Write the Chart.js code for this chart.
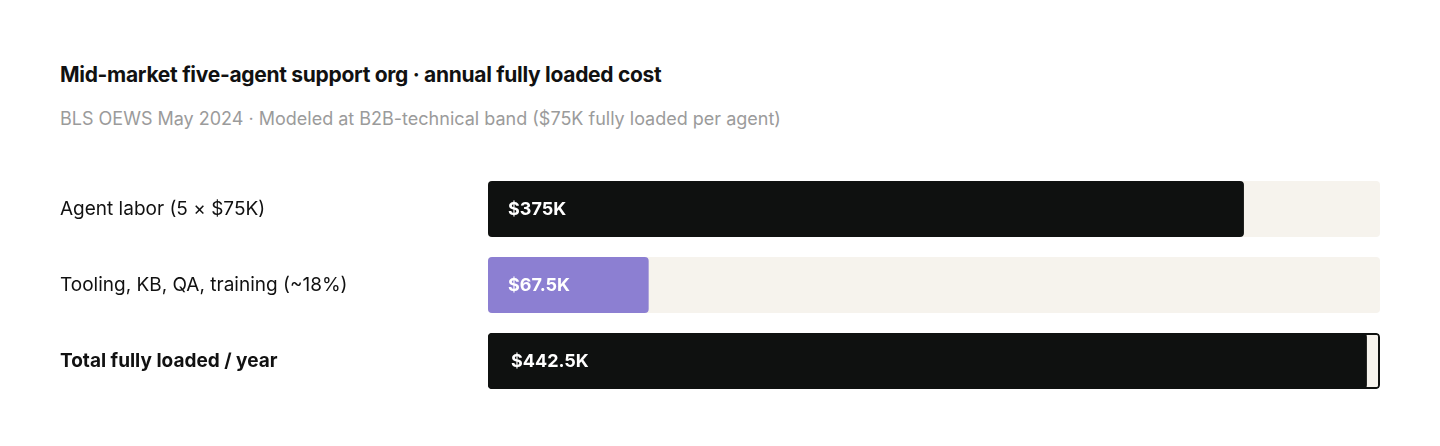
<!DOCTYPE html>
<html><head><meta charset="utf-8">
<script src="https://cdn.jsdelivr.net/npm/chart.js@4"></script>
<style>
html,body{margin:0;padding:0;background:#fff;font-family:Inter,"Noto Sans",sans-serif;}
#wrap{position:relative;width:1440px;height:446px;}
#t{position:absolute;left:60px;top:62px;font-size:21px;font-weight:700;color:#111;letter-spacing:-0.3px}
#s{position:absolute;left:60px;top:108px;font-size:18px;color:#9b9b9b}
canvas{position:absolute;left:0;top:0}
</style></head><body>
<div id="wrap">
<div id="t">Mid-market five-agent support org · annual fully loaded cost</div>
<div id="s">BLS OEWS May 2024 · Modeled at B2B-technical band ($75K fully loaded per agent)</div>
<canvas id="c" width="1440" height="446"></canvas>
</div>
<script>
const categories = ["Agent labor (5 × $75K)", "Tooling, KB, QA, training (~18%)", "Total fully loaded / year"];
const barValues = [375, 79.7, 436];
const valueLabels = ["$375K", "$67.5K", "$442.5K"];
const trackMax = 442.5;
const barColors = ["#0f1110", "#8c7fd2", "#0f1110"];

const labelPlugin = {
  id: 'vl',
  afterDatasetsDraw(chart) {
    const ctx = chart.ctx;
    const meta = chart.getDatasetMeta(0);
    ctx.save();
    ctx.fillStyle = '#fff';
    ctx.font = '700 18px Inter, sans-serif';
    ctx.textBaseline = 'middle';
    meta.data.forEach((b, i) => {
      ctx.fillText(valueLabels[i], b.base + (i === 2 ? 23 : 20), b.y + 1);
    });
    ctx.restore();
  }
};

new Chart(document.getElementById('c'), {
  type: 'bar',
  data: {
    labels: categories,
    datasets: [
      { data: barValues, backgroundColor: barColors, borderRadius: 4, borderSkipped: false, order: 0, grouped: false,
        barPercentage: 0.737, categoryPercentage: 1 },
      { data: categories.map(() => trackMax), backgroundColor: "#f6f3ed",
        borderColor: ["rgba(0,0,0,0)", "rgba(0,0,0,0)", "#0f1110"], borderWidth: [0, 0, 2],
        borderRadius: 4, borderSkipped: false, order: 1, grouped: false,
        barPercentage: 0.737, categoryPercentage: 1 }
    ]
  },
  options: {
    indexAxis: 'y', responsive: false, animation: false,
    layout: { padding: { top: 171, bottom: 47, right: 60, left: 60 } },
    plugins: { legend: { display: false }, tooltip: { enabled: false } },
    scales: {
      x: { min: 0, max: trackMax, display: false },
      y: {
        grid: { display: false }, border: { display: false },
        afterFit(s) { s.width = 428; },
        ticks: {
          crossAlign: 'far', padding: 0, color: '#111',
          font: (c) => ({ family: 'Inter, sans-serif', size: 19, weight: c.index === 2 ? '700' : '400' })
        }
      }
    }
  },
  plugins: [labelPlugin]
});
</script>
</body></html>
